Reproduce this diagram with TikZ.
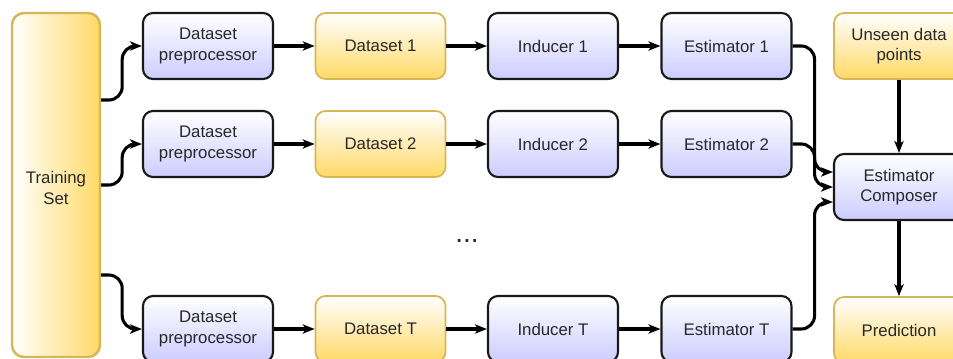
\documentclass[tikz,border=0pt]{standalone}
\usepackage{fontspec}
\setmainfont{Liberation Sans}
\usetikzlibrary{arrows.meta,calc}
\definecolor{lilac}{RGB}{204,204,255}
\definecolor{gold}{RGB}{255,217,102}
\definecolor{goldline}{RGB}{214,182,86}
\definecolor{ink}{RGB}{40,40,40}
\begin{document}
\begin{tikzpicture}[x=0.75pt,y=-0.75pt,
  every node/.style={font=\fontsize{12.6pt}{15.5pt}\selectfont, text=ink, align=center, inner sep=0pt},
  proc/.style={draw=black!90, line width=1.6pt, rounded corners=7.5pt,
    top color=white, bottom color=lilac, minimum width=97.5pt, minimum height=49.5pt},
  data/.style={draw=goldline, line width=1.3pt, rounded corners=7.5pt,
    top color=white, bottom color=gold, minimum width=97.5pt, minimum height=49.5pt},
  source/.style={draw=goldline, line width=1.8pt, rounded corners=9pt,
    left color=white, right color=gold, minimum width=66pt, minimum height=258pt},
  arr/.style={draw=black, line width=2.3pt, -{Stealth[length=9pt,width=7pt,inset=2.5pt]}},
  curvy/.style={arr, rounded corners=10pt}]
\clip (0,0) rectangle (953,358);
\fill[white] (0,0) rectangle (953,358);

% training set feeding all dataset preprocessors
\node[source, label={[yshift=-2.25pt, align=center]center:Training\\Set}] (ts) at (56,185) {};

% row 1
\node[proc] (pp1)  at (208,46)   {Dataset\\preprocessor};
\node[data] (ds1)  at (380.5,46) {Dataset 1};
\node[proc] (ind1) at (553,46)   {Inducer 1};
\node[proc] (est1) at (726.5,46) {Estimator 1};

% row 2
\node[proc] (pp2)  at (208,144)   {Dataset\\preprocessor};
\node[data] (ds2)  at (380.5,144) {Dataset 2};
\node[proc] (ind2) at (553,144)   {Inducer 2};
\node[proc] (est2) at (726.5,144) {Estimator 2};

\node[font=\fontsize{21pt}{21pt}\selectfont, anchor=base] (dots) at (467,242) {...};

% row T
\node[proc] (ppT)  at (208,329)   {Dataset\\preprocessor};
\node[data] (dsT)  at (380.5,329) {Dataset T};
\node[proc] (indT) at (553,329)   {Inducer T};
\node[proc] (estT) at (726.5,329) {Estimator T};

% combination stage
\node[data] (unseen) at (899,46)  {Unseen data\\points};
\node[proc] (comp)   at (899,187) {Estimator\\Composer};
\node[data] (pred)   at (899,330) {Prediction};

% pipelines
\foreach \r in {1,2,T}{
  \draw[arr] (pp\r) -- (ds\r);
  \draw[arr] (ds\r) -- (ind\r);
  \draw[arr] (ind\r) -- (est\r);
}

% training set to preprocessors
\draw[curvy] ($(ts.east)+(0,-85)$) -- ++(21,0) |- (pp1.west);
\draw[curvy] ($(ts.east)+(0,0)$)   -- ++(21,0) |- (pp2.west);
\draw[curvy] ($(ts.east)+(0,90)$)  -- ++(21,0) |- (ppT.west);

% estimators to composer
\draw[curvy] (est1.east) -- ++(22,0) |- ($(comp.west)+(0,-15)$);
\draw[curvy] (est2.east) -- ++(22,0) |- ($(comp.west)+(0,0)$);
\draw[curvy] (estT.east) -- ++(22,0) |- ($(comp.west)+(0,15)$);

\draw[arr] (unseen) -- (comp);
\draw[arr] (comp) -- (pred);
\end{tikzpicture}
\end{document}
